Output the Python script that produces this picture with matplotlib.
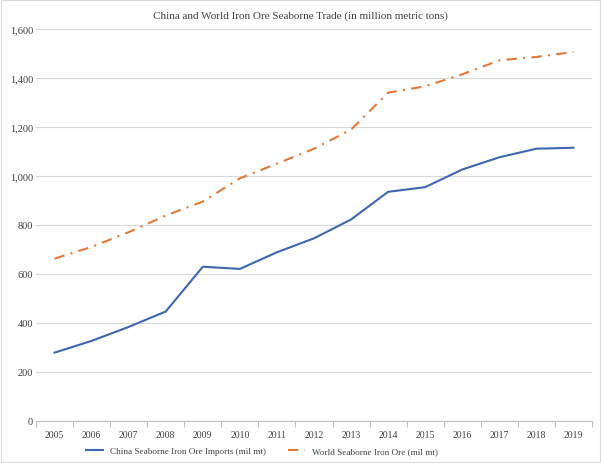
import numpy as np
import matplotlib.pyplot as plt
from matplotlib.ticker import FuncFormatter

years = ['2005', '2006', '2007', '2008', '2009', '2010', '2011', '2012',
         '2013', '2014', '2015', '2016', '2017', '2018', '2019']
china_imports = [278, 326, 383, 446, 629, 620, 688, 745, 822, 935, 954, 1026, 1076, 1111, 1115]
world_trade = [662, 710, 770, 838, 895, 990, 1050, 1111, 1189, 1340, 1366, 1415, 1472, 1486, 1506]

plt.rcParams['font.family'] = ['Liberation Serif', 'DejaVu Serif']

fig = plt.figure(figsize=(6.01, 4.64), dpi=100)
ax = fig.add_axes([36 / 601, 1 - 421.7 / 464, (592 - 36) / 601, (421.7 - 30) / 464])

x = np.arange(len(years))
ax.plot(x, china_imports, color='#4066B0', lw=1.5, label='China Seaborne Iron Ore Imports (mil mt)')
ax.plot(x, world_trade, color='#E07A3A', lw=1.5, dashes=(5, 3, 1, 3),
        label='World Seaborne Iron Ore (mil mt)')

ax.set_xlim(-0.5, len(years) - 0.5)
ax.set_ylim(0, 1600)
ax.set_yticks(range(0, 1601, 200))
ax.yaxis.set_major_formatter(FuncFormatter(lambda v, p: f'{int(v):,}'))
ax.set_xticks(x)
ax.set_xticklabels(years)
ax.set_xticks(np.arange(-0.5, len(years), 1), minor=True)

ax.grid(axis='y', color='#d9d9d9', lw=0.8)
ax.set_axisbelow(True)
for s in ['top', 'right', 'left']:
    ax.spines[s].set_visible(False)
ax.spines['bottom'].set_color('#bfbfbf')
ax.spines['bottom'].set_linewidth(0.8)

ax.tick_params(axis='y', length=0, labelsize=7.5, colors='#404040', pad=2)
ax.tick_params(axis='x', which='major', length=0, labelsize=7, colors='#404040', pad=7)
ax.tick_params(axis='x', which='minor', length=4, color='#bfbfbf', width=0.8)

fig.text(0.5, 1 - 16 / 464, 'China and World Iron Ore Seaborne Trade (in million metric tons)',
         ha='center', va='center', fontsize=8, color='#404040')

fig.legend(loc='center left', bbox_to_anchor=(86 / 601, 1 - 452 / 464), ncol=2, frameon=False,
           fontsize=6.6, labelcolor='#404040', handlelength=1.9, handletextpad=0.7,
           columnspacing=2.4, borderpad=0, borderaxespad=0)

fig.patches.append(plt.Rectangle((0.002, 0.002), 0.996, 0.996, transform=fig.transFigure,
                                 fill=False, edgecolor='#d9d9d9', lw=0.8))

fig.savefig('out.png', dpi=100)
